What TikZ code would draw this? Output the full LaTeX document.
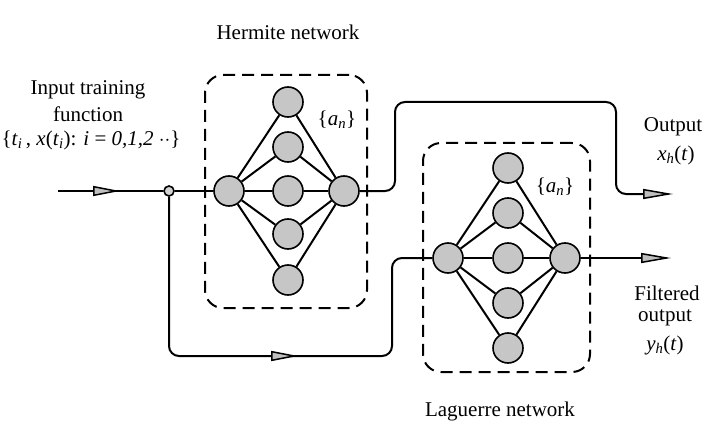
\documentclass[tikz,border=0pt]{standalone}
\usepackage{fontspec}
\setmainfont{Liberation Serif}
\usetikzlibrary{arrows.meta,decorations.markings}
\begin{document}
\begin{tikzpicture}[x=1pt,y=-1pt,
 neuron/.style={circle,draw,fill=gray!45,minimum size=30pt,inner sep=0pt,line width=1.6pt},
 junc/.style={circle,draw,fill=gray!35,minimum size=10pt,inner sep=0pt,line width=1.6pt},
 conn/.style={line width=2pt},
 netbox/.style={draw,dash pattern=on 12pt off 7pt,line width=2pt,rounded corners=18pt,inner sep=0pt},
 lbl/.style={font=\fontsize{21}{24}\selectfont,align=center,inner sep=0pt},
 midarrow/.style={postaction={decorate},decoration={markings,mark=at position #1 with {\arrow{Triangle[length=27pt,width=10pt,fill=gray!50,line width=1.5pt]}}}},
 ]
\useasboundingbox (0,0) rectangle (720,441);
% boxes
\node[netbox,minimum width=162pt,minimum height=233pt] (hbox) at (286,191.5) {};
\node[netbox,minimum width=167pt,minimum height=229pt] (lbox) at (506.5,257.5) {};
% Hermite network
\node[neuron] (h0) at (229,191) {};
\node[neuron] (h1) at (288,102) {};
\node[neuron] (h2) at (288,147) {};
\node[neuron] (h3) at (288,191) {};
\node[neuron] (h4) at (288,234) {};
\node[neuron] (h5) at (288,280) {};
\node[neuron] (h6) at (344,191) {};
\foreach \i in {1,...,5} {\draw[conn] (h0) -- (h\i) -- (h6);}
% Laguerre network
\node[neuron] (l0) at (448,258) {};
\node[neuron] (l1) at (508,168) {};
\node[neuron] (l2) at (508,213) {};
\node[neuron] (l3) at (508,258) {};
\node[neuron] (l4) at (508,303) {};
\node[neuron] (l5) at (508,348) {};
\node[neuron] (l6) at (565,258) {};
\foreach \i in {1,...,5} {\draw[conn] (l0) -- (l\i) -- (l6);}
% junction and terminals
\node[junc] (jn) at (169,191) {};
\coordinate (inp) at (58,191);
\coordinate (xout) at (673,194);
\coordinate (yout) at (671,258);
% connectors
\draw[conn,midarrow=62pt] (inp) -- (jn.west);
\draw[conn] (jn.east) -- (h0.west);
\draw[conn,rounded corners=10pt,midarrow=284pt] (jn.south) -- (169,356) -- (392,356) -- (392,258) -- (l0.west);
\draw[conn,rounded corners=10pt,-{Triangle[length=30pt,width=10pt,fill=gray!50,line width=1.5pt]}] (h6.east) -- (395,191) -- (395,102) -- (616,102) -- (616,194) -- (xout);
\draw[conn,-{Triangle[length=30pt,width=10pt,fill=gray!50,line width=1.5pt]}] (l6.east) -- (yout);
% labels
\node[lbl] (thtitle) at (288,32) {Hermite network};
\node[lbl] (tltitle) at (500,411) {Laguerre network};
\node[lbl] (tin1) at (88,90) {Input training};
\node[lbl] (tin2) at (88,114) {function};
\node[lbl] (tin3) at (91,140) {\{\textit{t}\textsubscript{\textit{i}}\,, \textit{x}(\textit{t}\textsubscript{\textit{i}}): \textit{i} = \textit{0,1,2} $\cdot\cdot$\}};
\node[lbl] (tah) at (337,120) {\{\textit{a}\textsubscript{\textit{n}}\}};
\node[lbl] (tal) at (555,187) {\{\textit{a}\textsubscript{\textit{n}}\}};
\node[lbl] (tout1) at (673,127) {Output};
\node[lbl] (tout2) at (676,155) {\textit{x}\textsubscript{\textit{h}}(\textit{t})};
\node[lbl] (tf1) at (667,293) {Filtered};
\node[lbl] (tf2) at (665,318) {output};
\node[lbl] (tf3) at (665,345) {\textit{y}\textsubscript{\textit{h}}(\textit{t})};
\end{tikzpicture}
\end{document}
